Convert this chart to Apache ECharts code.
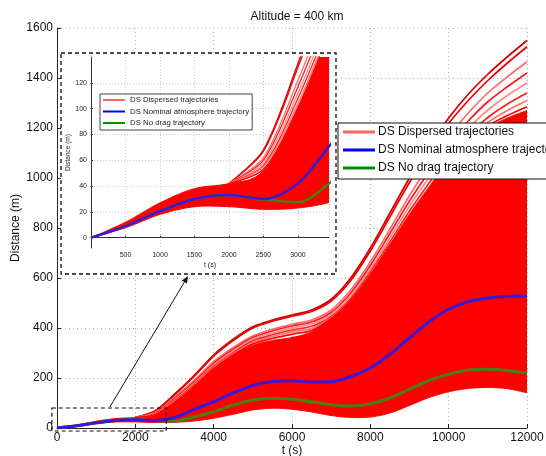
<!DOCTYPE html>
<html><head><meta charset="utf-8">
<script src="https://cdn.jsdelivr.net/npm/echarts@6/dist/echarts.min.js"></script>
<style>html,body{margin:0;padding:0;background:#fff}#c{width:546px;height:456px}</style>
</head><body><div id="c"></div>
<script>
// ---- data ----
const tMain = [0,500,1000,1500,2000,2500,3000,3500,4000,4500,5000,5500,6000,6500,7000,7500,8000,8500,9000,9500,10000,10500,11000,11500,12000];
const redLower = [0,7.7,18,24,24,22,23,28,39,55,72,79,75,64,50,42,44,60,90,122,145,158,162,157,141];
const redUpper = [0,12,27,38,42,52,100,165,235,290,330,350,362,385,435,510,610,730,850,960,1060,1140,1200,1240,1270];
const nominal = [0,9,20.5,30,33,30,42,74,105,140,170,186,189,184,185,205,240,295,360,425,475,505,520,527,528];
const noDrag = [0,9,20.5,30,33,29.5,27.4,44,65,92,112,119,115,105,93,88,97,120,155,190,215,232,235,230,219];
const tTraj = [2000,2500,3000,3500,4000,4500,5000,5500,6000,6500,7000,7500,8000,8500,9000,9500,10000,10500,11000,11500,12000];
const traj1 = [42,68,135,210,292,355,405,432,452,472,515,600,720,860,1000,1125,1240,1335,1415,1485,1550];
const traj2 = [42,67,132,206,288,350,400,427,447,466,508,590,708,845,982,1105,1218,1310,1390,1460,1525];
const traj3 = [42,62,122,190,265,322,368,395,415,432,472,552,664,795,930,1052,1168,1260,1340,1405,1465];
const traj4 = [42,60,117,184,258,315,362,388,408,424,462,540,650,778,908,1025,1138,1228,1305,1365,1420];
const traj5 = [42,58,112,178,252,308,356,380,400,416,453,528,636,760,888,1002,1112,1198,1272,1330,1380];
const traj6 = [42,56,108,173,246,301,349,373,392,407,445,518,624,744,868,980,1088,1172,1242,1296,1340];
const traj7 = [42,55,104,169,241,296,342,366,384,398,440,512,615,733,854,963,1072,1155,1222,1270,1310];
const traj8 = [42,53,101,166,237,292,336,358,375,390,437,512,612,730,850,960,1064,1145,1208,1250,1285];
const insetYTicks = [0,20,40,60,80,100,120];
const zoomBox = [[-130,-12],[2790,80]];
const arrowFrom = [1350,84];
const arrowTo = [3345,608];
const names = ['DS Dispersed trajectories','DS Nominal atmosphere trajectory','DS No drag trajectory'];

// ---- styles ----
const trajs = [traj1,traj2,traj3,traj4,traj5,traj6,traj7,traj8];
const trajColors = ['#d00000','#f00000','#ff6a6a','#ff1a1a','#ff8a8a','#ff2020','#ff7070','#ff0000'];
const FONT = 'Liberation Sans, Arial, sans-serif';
const pair = (xs, ys) => xs.map((x,i)=>[x, ys[i]]);
const plain = v => String(v);

// Catmull-Rom densification of pixel points (rendering only)
function smoothPts(p) {
  const out = [];
  const n = p.length;
  for (let i = 0; i < n - 1; i++) {
    const p0 = p[Math.max(i-1,0)], p1 = p[i], p2 = p[i+1], p3 = p[Math.min(i+2,n-1)];
    const c1 = [p1[0] + (p2[0]-p0[0])/6, p1[1] + (p2[1]-p0[1])/6];
    const c2 = [p2[0] - (p3[0]-p1[0])/6, p2[1] - (p3[1]-p1[1])/6];
    for (let k = 0; k < 10; k++) {
      const s = k/10, u = 1-s;
      out.push([u*u*u*p1[0] + 3*u*u*s*c1[0] + 3*u*s*s*c2[0] + s*s*s*p2[0],
                u*u*u*p1[1] + 3*u*u*s*c1[1] + 3*u*s*s*c2[1] + s*s*s*p2[1]]);
    }
  }
  out.push(p[n-1]);
  return out;
}

const chart = echarts.init(document.getElementById('c'), null, {renderer:'canvas'});

function bandSeries(g, z) {
  return {
    type:'custom', name: names[0], xAxisIndex:g, yAxisIndex:g, clip:true, z:z,
    itemStyle:{color:'#ff0000'},
    data: tMain.map((t,i)=>[t, redLower[i], redUpper[i]]),
    renderItem: function(params, api) {
      if (params.dataIndex !== 0) return;
      const up = tMain.map((t,i)=>api.coord([t, redUpper[i]]));
      const lo = tMain.map((t,i)=>api.coord([t, redLower[i]]));
      const pts = smoothPts(up).concat(smoothPts(lo).reverse());
      return {type:'polygon', shape:{points:pts}, style:{fill:'#ff0000', stroke:'#ff0000', lineWidth:1}};
    }
  };
}
function seriesFor(g, z, lw) {
  const s = [bandSeries(g, z)];
  trajs.forEach((tr, k) => s.push({
    type:'line', xAxisIndex:g, yAxisIndex:g, z:z, smooth:0.3, symbol:'none', silent:true,
    data: pair(tTraj, tr), lineStyle:{color:trajColors[k], width: g===0?1.7:1.3}
  }));
  s.push({type:'line', name:names[2], xAxisIndex:g, yAxisIndex:g, z:z+1, smooth:0.3, symbol:'none',
    data: pair(tMain, noDrag), itemStyle:{color:'#4a7d12'}, lineStyle:{color:'#4a7d12', width:lw}});
  s.push({type:'line', name:names[1], xAxisIndex:g, yAxisIndex:g, z:z+1, smooth:0.3, symbol:'none',
    data: pair(tMain, nominal), itemStyle:{color:'#3b18d4'}, lineStyle:{color:'#3b18d4', width:lw}});
  return s;
}

const legendData = [
  {name:names[0], itemStyle:{color:'#ff6464'}},
  {name:names[1], itemStyle:{color:'#0000ff'}},
  {name:names[2], itemStyle:{color:'#009000'}}
];

const option = {
  animation:false,
  backgroundColor:'#fff',
  title:{text:'Altitude = 400 km', left:292, top:6, textAlign:'center',
    textStyle:{fontFamily:FONT, fontSize:12, fontWeight:'normal', color:'#111'}},
  grid:[
    {left:57, top:28, width:470, height:400, outerBoundsMode:'none', containLabel:false},
    {left:91, top:57, width:238, height:191, z:6, outerBoundsMode:'none', containLabel:false}
  ],
  xAxis:[
    {type:'value', gridIndex:0, min:0, max:12000, interval:2000,
     name:'t (s)', nameLocation:'middle', nameGap:17, nameMoveOverlap:false,
     nameTextStyle:{fontFamily:FONT, fontSize:12, color:'#111'},
     axisLine:{lineStyle:{color:'#222', width:1}},
     axisTick:{inside:true, length:4, lineStyle:{color:'#222'}},
     axisLabel:{fontFamily:FONT, fontSize:12, color:'#111', margin:4, formatter:plain},
     splitLine:{show:true, lineStyle:{color:'#aaaaaa', type:[1,3], width:1}}},
    {type:'value', gridIndex:1, min:0, max:3450, interval:500, z:6,
     name:'t (s)', nameLocation:'middle', nameGap:14,
     nameTextStyle:{fontFamily:FONT, fontSize:7, color:'#222'},
     axisLine:{lineStyle:{color:'#333', width:1}},
     axisTick:{inside:true, length:2, lineStyle:{color:'#333'}},
     axisLabel:{fontFamily:FONT, fontSize:7, color:'#222', margin:4, showMinLabel:false, showMaxLabel:false, formatter:plain},
     splitLine:{show:true, lineStyle:{color:'#bbbbbb', type:[1,2], width:0.8}}}
  ],
  yAxis:[
    {type:'value', gridIndex:0, min:0, max:1600, interval:200,
     name:'Distance (m)', nameLocation:'middle', nameGap:35, nameRotate:90, nameMoveOverlap:false,
     nameTextStyle:{fontFamily:FONT, fontSize:12, color:'#111'},
     axisLine:{show:true, lineStyle:{color:'#222', width:1}},
     axisTick:{show:true, inside:true, length:4, lineStyle:{color:'#222'}},
     axisLabel:{fontFamily:FONT, fontSize:12, color:'#111', margin:4, formatter:plain},
     splitLine:{show:true, lineStyle:{color:'#aaaaaa', type:[1,3], width:1}}},
    {type:'value', gridIndex:1, min:-8, max:140, z:6,
     name:'Distance (m)', nameLocation:'middle', nameGap:18, nameRotate:90,
     nameTextStyle:{fontFamily:FONT, fontSize:6.5, color:'#222'},
     axisLine:{show:true, lineStyle:{color:'#333', width:1}},
     axisTick:{show:true, inside:true, length:2, customValues:insetYTicks, lineStyle:{color:'#333'}},
     axisLabel:{fontFamily:FONT, fontSize:7, color:'#222', margin:4, customValues:insetYTicks, formatter:plain},
     splitLine:{show:true, lineStyle:{color:'#bbbbbb', type:[1,2], width:0.8}}}
  ],
  legend:[
    {left:338, top:123, orient:'vertical', z:20, data:legendData, icon:'rect',
     itemWidth:32, itemHeight:3, itemGap:6, padding:[3,5,5,5],
     backgroundColor:'#fff', borderColor:'#111', borderWidth:1, borderRadius:0,
     selectedMode:false,
     textStyle:{fontFamily:FONT, fontSize:12, color:'#111', padding:[0,0,0,-2]}},
    {left:100, top:94, orient:'vertical', z:20, data:legendData, icon:'rect',
     itemWidth:22, itemHeight:2, itemGap:3.5, padding:[2,3,3,3],
     backgroundColor:'#fff', borderColor:'#444', borderWidth:1, borderRadius:0,
     selectedMode:false,
     textStyle:{fontFamily:FONT, fontSize:7.8, color:'#222'}}
  ],
  graphic:{elements:[
    {id:'insetBox', type:'rect', z:5, zlevel:0,
     shape:{x:61, y:53, width:275, height:221},
     style:{fill:'#fff', stroke:'#111', lineWidth:1.3, lineDash:[4,3]}}
  ]},
  series: [].concat(seriesFor(0, 2, 3), seriesFor(1, 7, 2.5))
};
chart.setOption(option);

const P = (d) => chart.convertToPixel({xAxisIndex:0, yAxisIndex:0}, d);
const b0 = P(zoomBox[0]), b1 = P(zoomBox[1]);
const a0 = P(arrowFrom), a1 = P(arrowTo);
const ang = Math.atan2(a1[1]-a0[1], a1[0]-a0[0]);
const hl = 7, hw = 3;
const tip = a1;
const base = [tip[0]-hl*Math.cos(ang), tip[1]-hl*Math.sin(ang)];
const head = [tip, [base[0]+hw*Math.sin(ang), base[1]-hw*Math.cos(ang)], [base[0]-hw*Math.sin(ang), base[1]+hw*Math.cos(ang)]];
chart.setOption({graphic:{elements:[
  {id:'zoomBox', type:'rect', z:5,
   shape:{x:Math.min(b0[0],b1[0]), y:Math.min(b0[1],b1[1]), width:Math.abs(b1[0]-b0[0]), height:Math.abs(b1[1]-b0[1])},
   style:{fill:null, stroke:'#111', lineWidth:1.2, lineDash:[4,3]}},
  {id:'arrowLine', type:'line', z:5, shape:{x1:a0[0], y1:a0[1], x2:base[0], y2:base[1]}, style:{stroke:'#111', lineWidth:1}},
  {id:'arrowHead', type:'polygon', z:5, shape:{points:head}, style:{fill:'#111'}}
]}});
</script></body></html>
